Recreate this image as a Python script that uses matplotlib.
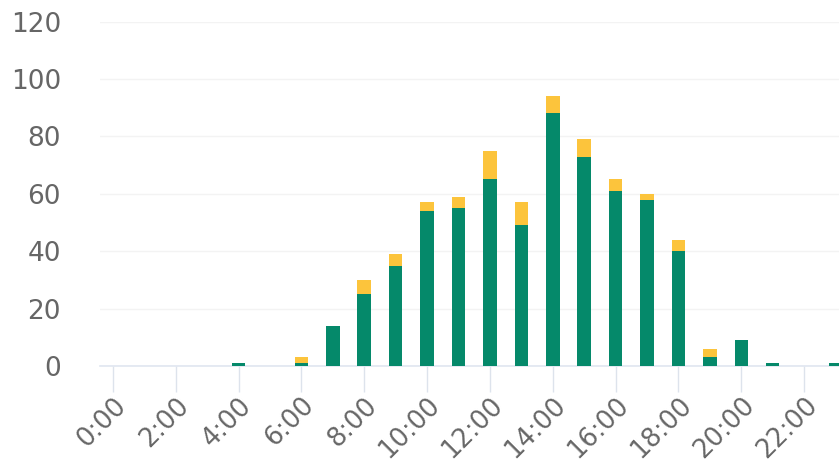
import matplotlib
matplotlib.use('Agg')
from matplotlib import pyplot as plt
import numpy as np

hours = list(range(24))
hour_labels = ['%d:00' % h for h in hours]
green_vals = [0, 0, 0, 0, 1, 0, 1, 14, 25, 35, 54, 55, 65, 49, 88, 73, 61, 58, 40, 3, 9, 1, 0, 1]
yellow_vals = [0, 0, 0, 0, 0, 0, 2, 0, 5, 4, 3, 4, 10, 8, 6, 6, 4, 2, 4, 3, 0, 0, 0, 0]

green = '#05896a'
yellow = '#fcc43c'
text_col = '#666666'

fig = plt.figure(figsize=(8.39, 4.66), dpi=100)
ax = fig.add_axes([0.119, 0.2146, 0.881, 0.739])

x = np.array(hours)
ax.bar(x, green_vals, width=0.43, color=green, zorder=3)
ax.bar(x, yellow_vals, width=0.43, bottom=green_vals, color=yellow, zorder=3)

ax.set_xlim(-0.414, 23.11)
ax.set_ylim(0, 120)
ax.set_yticks(range(0, 121, 20))
ax.yaxis.grid(True, color='#f3f3f3', linewidth=1, zorder=0)

ax.set_xticks(x[::2])
ax.set_xticklabels(hour_labels[::2], rotation=45, ha='right', rotation_mode='anchor')

for s in ['top', 'right', 'left']:
    ax.spines[s].set_visible(False)
ax.spines['bottom'].set_color('#e0e6f0')
ax.spines['bottom'].set_linewidth(1.2)

ax.tick_params(axis='y', length=0, pad=28, labelsize=19, labelcolor=text_col)
ax.tick_params(axis='x', length=19, width=1, color='#dde3ec', pad=0, labelsize=18.5, labelcolor=text_col)

fig.savefig('out.png', dpi=100)
